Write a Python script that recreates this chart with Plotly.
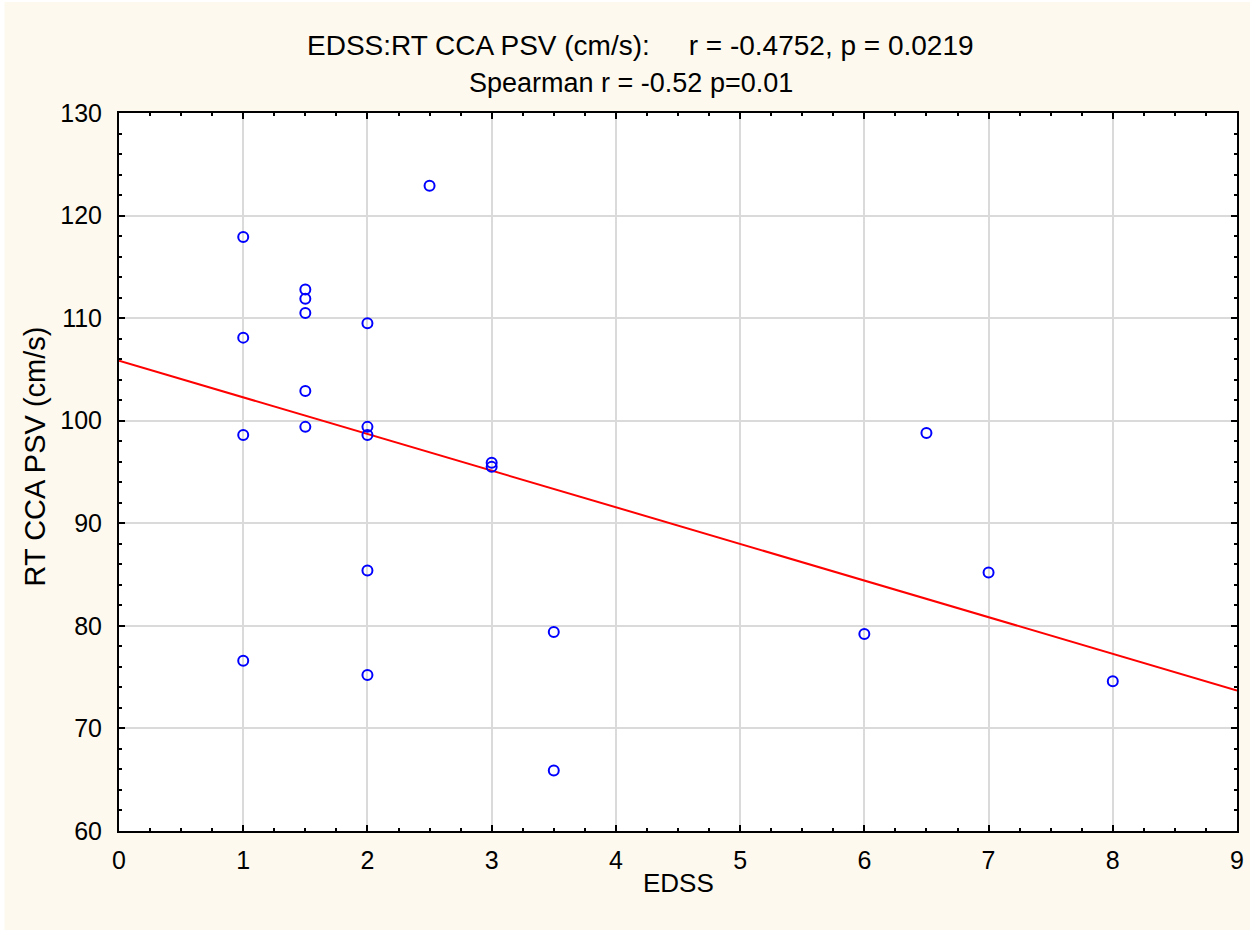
import numpy as np
import plotly.graph_objects as go

edss = [1, 1, 1, 1,
        1.5, 1.5, 1.5, 1.5, 1.5,
        2, 2, 2, 2, 2,
        2.5,
        3, 3,
        3.5, 3.5,
        6, 6.5, 7, 8]
psv = [117.9, 108.1, 98.6, 76.6,
       112.8, 111.9, 110.5, 102.9, 99.4,
       109.5, 99.4, 98.6, 85.4, 75.2,
       122.9,
       95.9, 95.5,
       79.4, 65.9,
       79.2, 98.8, 85.2, 74.6]

title1 = "EDSS:RT CCA PSV (cm/s):\u00a0\u00a0\u00a0\u00a0 r = -0.4752, p = 0.0219"
title2 = "Spearman r = -0.52 p=0.01"
xlabel = "EDSS"
ylabel = "RT CCA PSV (cm/s)"
xticks = [0, 1, 2, 3, 4, 5, 6, 7, 8, 9]
yticks = [60, 70, 80, 90, 100, 110, 120, 130]

slope, intercept = np.polyfit(edss, psv, 1)
xl = np.array([0, 9])
yl = intercept + slope * xl

FONT = "Liberation Sans, Arial, sans-serif"
CREAM = "#FDF9EE"

fig = go.Figure()
fig.add_trace(go.Scatter(x=xl, y=yl, mode="lines",
                         line=dict(color="#FF0000", width=2), hoverinfo="skip"))
fig.add_trace(go.Scatter(x=edss, y=psv, mode="markers",
                         marker=dict(symbol="circle-open", size=10, color="#0000FF",
                                     line=dict(width=2, color="#0000FF"))))

L, R, T, B = 118.5, 23, 113, 99
W, H = 1260, 930
pw = W - L - R
ph = H - T - B

def px2x(p):
    return (p - L) / pw

def py2y(p):
    return (H - B - p) / ph

axis_common = dict(
    showline=True, linecolor="black", linewidth=2, mirror="ticks",
    ticks="inside", ticklen=6, tickwidth=2, tickcolor="black",
    showgrid=True, gridcolor="#DADADA", gridwidth=2,
    zeroline=False,
    tickfont=dict(family=FONT, size=25, color="black"),
)

fig.update_xaxes(range=[0, 9], tickvals=xticks, ticklabelstandoff=6,
                 minor=dict(dtick=0.25, ticks="inside", ticklen=3, tickwidth=2,
                            tickcolor="black", showgrid=False),
                 **axis_common)
fig.update_yaxes(range=[60, 130], tickvals=yticks, ticklabelstandoff=10,
                 minor=dict(dtick=2, ticks="inside", ticklen=3, tickwidth=2,
                            tickcolor="black", showgrid=False),
                 **axis_common)

fig.add_shape(type="rect", xref="paper", yref="paper", layer="below",
              x0=px2x(4), x1=px2x(1250), y0=py2y(930), y1=py2y(2),
              fillcolor=CREAM, line=dict(width=0))
fig.add_shape(type="rect", xref="paper", yref="paper", layer="below",
              x0=0, x1=1, y0=0, y1=1, fillcolor="white", line=dict(width=0))

fig.add_annotation(text=title1, xref="paper", yref="paper", x=px2x(640), y=py2y(45),
                   showarrow=False, xanchor="center", yanchor="middle",
                   font=dict(family=FONT, size=28, color="black"))
fig.add_annotation(text=title2, xref="paper", yref="paper", x=px2x(631), y=py2y(83),
                   showarrow=False, xanchor="center", yanchor="middle",
                   font=dict(family=FONT, size=27, color="black"))
fig.add_annotation(text=xlabel, xref="paper", yref="paper", x=px2x(678), y=py2y(883),
                   showarrow=False, xanchor="center", yanchor="middle",
                   font=dict(family=FONT, size=26, color="black"))
fig.add_annotation(text=ylabel, xref="paper", yref="paper", x=px2x(34), y=py2y(457),
                   showarrow=False, xanchor="center", yanchor="middle", textangle=-90,
                   font=dict(family=FONT, size=29, color="black"))

fig.update_layout(
    width=W, height=H,
    margin=dict(l=L, r=R, t=T, b=B, pad=0),
    paper_bgcolor="white", plot_bgcolor="white",
    showlegend=False,
    font=dict(family=FONT, size=26, color="black"),
)

fig.write_html("out.html")
